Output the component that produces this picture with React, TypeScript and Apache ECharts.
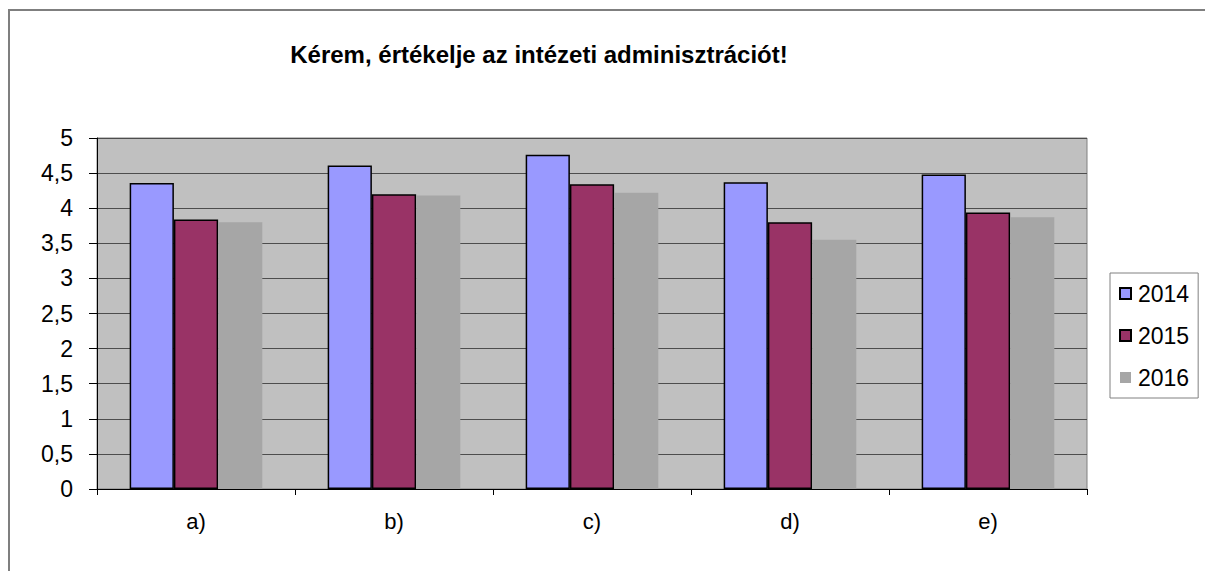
import React, { useEffect, useRef } from "react";
import * as echarts from "echarts";

const categories = ["a)", "b)", "c)", "d)", "e)"];
const seriesNames = ["2014", "2015", "2016"];
const values2014 = [4.36, 4.61, 4.76, 4.37, 4.48];
const values2015 = [3.84, 4.2, 4.34, 3.8, 3.94];
const values2016 = [3.8, 4.18, 4.22, 3.55, 3.87];
const titleText = "Kérem, értékelje az intézeti adminisztrációt!";

const FONT = "'Liberation Sans', Arial, sans-serif";

export default function App() {
  const ref = useRef<HTMLDivElement>(null);
  useEffect(() => {
    document.body.style.margin = "0";
    const chart = echarts.init(ref.current!, null, { renderer: "svg" });
    const barBorder = { borderColor: "#000", borderWidth: 1.5 };
    chart.setOption({
      animation: false,
      backgroundColor: "#fff",
      textStyle: { fontFamily: FONT },
      graphic: [
        {
          type: "rect",
          shape: { x: 9, y: 10, width: 1300, height: 700 },
          style: { fill: "none", stroke: "#7f7f7f", lineWidth: 2 },
          silent: true,
        },
        {
          type: "text",
          x: 539,
          y: 54,
          style: {
            text: titleText,
            fontFamily: FONT,
            fontSize: 24,
            fontWeight: "bold",
            fill: "#000",
            textAlign: "center",
            textVerticalAlign: "middle",
          },
        },
      ],
      grid: {
        left: 97,
        top: 138,
        width: 990,
        height: 351,
        show: true,
        backgroundColor: "#c0c0c0",
        borderColor: "#808080",
        borderWidth: 1,
      },
      legend: {
        orient: "vertical",
        left: 1110,
        top: 273,
        data: seriesNames,
        icon: "rect",
        itemWidth: 11,
        itemHeight: 11,
        itemGap: 19,
        padding: [9, 9, 9, 9],
        borderColor: "#808080",
        borderWidth: 1,
        textStyle: { fontFamily: FONT, fontSize: 23, color: "#000", lineHeight: 23, padding: [0, 0, 0, 2] },
      },
      xAxis: {
        type: "category",
        data: categories,
        axisLine: { show: true, lineStyle: { color: "#000", width: 1 } },
        axisTick: { show: true, length: 6, alignWithLabel: false, lineStyle: { color: "#000" } },
        axisLabel: { fontFamily: FONT, fontSize: 22, color: "#000", margin: 21 },
        splitLine: { show: false },
      },
      yAxis: {
        type: "value",
        min: 0,
        max: 5,
        interval: 0.5,
        axisLine: { show: true, lineStyle: { color: "#000", width: 1 } },
        axisTick: { show: true, length: 8, lineStyle: { color: "#000" } },
        axisLabel: {
          fontFamily: FONT,
          fontSize: 23,
          color: "#000",
          margin: 24,
          formatter: (v: number) => String(v).replace(".", ","),
        },
        splitLine: { show: true, lineStyle: { color: "#4d4d4d", width: 1.2 } },
      },
      series: [
        {
          name: seriesNames[0],
          type: "bar",
          data: values2014,
          barGap: "0%",
          barCategoryGap: "33%",
          itemStyle: { color: "#9999ff", ...barBorder },
        },
        {
          name: seriesNames[1],
          type: "bar",
          data: values2015,
          barGap: "0%",
          barCategoryGap: "33%",
          itemStyle: { color: "#993366", ...barBorder },
        },
        {
          name: seriesNames[2],
          type: "bar",
          data: values2016,
          barGap: "0%",
          barCategoryGap: "33%",
          itemStyle: { color: "#a6a6a6", borderWidth: 0 },
        },
      ],
    });
    return () => chart.dispose();
  }, []);
  return <div ref={ref} style={{ width: 1205, height: 571 }} />;
}
